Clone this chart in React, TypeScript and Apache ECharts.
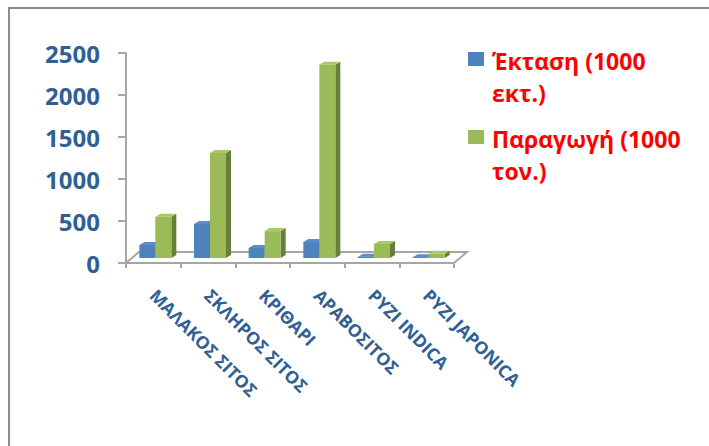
import React, { useEffect, useRef } from "react";
import * as echarts from "echarts";

const categories = ["ΜΑΛΑΚΟΣ ΣΙΤΟΣ", "ΣΚΛΗΡΟΣ ΣΙΤΟΣ", "ΚΡΙΘΑΡΙ", "ΑΡΑΒΟΣΙΤΟΣ", "ΡΥΖΙ INDICA", "ΡΥΖΙ JAPONICA"];
const areaValues = [155, 405, 120, 190, 15, 10];
const productionValues = [490, 1250, 320, 2300, 167, 50];
const yTicks = [0, 500, 1000, 1500, 2000, 2500];
const areaName = "Έκταση (1000 εκτ.)";
const productionName = "Παραγωγή (1000 τον.)";
const legendLines: Record<string, string> = {
  [areaName]: "Έκταση (1000\nεκτ.)",
  [productionName]: "Παραγωγή (1000\nτον.)",
};

const BLUE = ["#4f81bd", "#5a8dc9", "#37608f"];
const GREEN = ["#9bbb59", "#a9c966", "#66803a"];
const AXIS = "#a6a6a6";
const LABEL = "#2f5f93";
const FONT = "'Open Sans', 'Noto Sans', sans-serif";
const DX = 5;
const DY = 3;
const LIFT = 5;
const BAR = 16;

const legendIcon = "path://M0 0h16v14H0z M0 50h0";

function barSeries(name: string, values: number[], colors: string[], offset: number) {
  return {
    name,
    type: "custom",
    itemStyle: { color: colors[0] },
    data: values.map((v, i) => [i, v]),
    encode: { x: 0, y: 1 },
    renderItem: (_: any, api: any) => {
      const top = api.coord([api.value(0), api.value(1)]);
      const base = api.coord([api.value(0), 0]);
      const x = top[0] + offset;
      const yTop = top[1] - LIFT;
      const yBase = base[1] - LIFT;
      return {
        type: "group",
        children: [
          { type: "polygon", shape: { points: [[x + BAR, yTop], [x + BAR + DX, yTop - DY], [x + BAR + DX, yBase - DY], [x + BAR, yBase]] }, style: { fill: colors[2] } },
          { type: "polygon", shape: { points: [[x, yTop], [x + DX, yTop - DY], [x + BAR + DX, yTop - DY], [x + BAR, yTop]] }, style: { fill: colors[1] } },
          { type: "rect", shape: { x, y: yTop, width: BAR, height: yBase - yTop }, style: { fill: colors[0] } },
        ],
      };
    },
  };
}

const floorSeries = {
  type: "custom",
  silent: true,
  z: 1,
  data: [[0]],
  legendHoverLink: false,
  renderItem: (params: any, api: any) => {
    const c = params.coordSys;
    const y = api.coord([0, 0])[1];
    const l = c.x;
    const r = c.x + c.width;
    return {
      type: "polyline",
      shape: { points: [[l, y], [l + 13, y - 11], [r + 13, y - 11], [r, y]] },
      style: { fill: "none", stroke: AXIS, lineWidth: 2 },
    };
  },
};

export default function App() {
  const ref = useRef<HTMLDivElement>(null);
  useEffect(() => {
    const chart = echarts.init(ref.current!, undefined, { renderer: "svg" });
    chart.setOption({
      animation: false,
      backgroundColor: "#fff",
      graphic: [
        { type: "polyline", silent: true, shape: { points: [[9, 446], [9, 8], [709, 8]] }, style: { fill: "none", stroke: "#8c8c8c", lineWidth: 2 } },
      ],
      legend: {
        orient: "vertical",
        left: 468,
        top: 45,
        padding: 0,
        itemGap: 14,
        itemWidth: 16,
        itemHeight: 50,
        icon: legendIcon,
        data: [areaName, productionName],
        formatter: (n: string) => legendLines[n],
        textStyle: { color: "#ff0000", fontFamily: FONT, fontWeight: "bold", fontSize: 23, lineHeight: 32, padding: [0, 0, 0, 3] },
      },
      grid: { left: 126, right: 255, top: 53, bottom: 183 },
      xAxis: {
        type: "category",
        data: categories,
        axisTick: { show: true, alignWithLabel: false, length: 5, lineStyle: { color: AXIS, width: 2 } },
        axisLine: { lineStyle: { color: AXIS, width: 2 } },
        axisLabel: { rotate: -45, interval: 0, margin: 29, color: LABEL, fontFamily: FONT, fontWeight: "bold", fontSize: 17.5 },
      },
      yAxis: {
        type: "value",
        min: yTicks[0],
        max: yTicks[yTicks.length - 1],
        interval: yTicks[1] - yTicks[0],
        splitLine: { show: false },
        axisLine: { show: true, lineStyle: { color: AXIS, width: 2 } },
        axisTick: { show: true, length: 8, lineStyle: { color: AXIS, width: 2 } },
        axisLabel: { margin: 26, color: LABEL, fontFamily: FONT, fontWeight: "bold", fontSize: 24, formatter: (v: number) => String(v) },
      },
      series: [floorSeries, barSeries(areaName, areaValues, BLUE, -14), barSeries(productionName, productionValues, GREEN, 2)],
    });
    return () => chart.dispose();
  }, []);
  return <div ref={ref} style={{ position: "fixed", left: 0, top: 0, width: 709, height: 446 }} />;
}
